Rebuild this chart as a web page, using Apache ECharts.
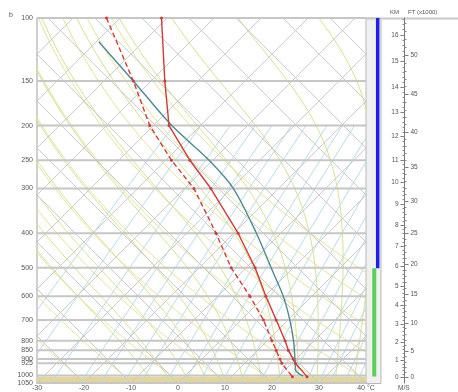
<!DOCTYPE html>
<html><head><meta charset="utf-8">
<script src="https://cdn.jsdelivr.net/npm/echarts@6/dist/echarts.min.js"></script>
<style>html,body{margin:0;padding:0;background:#fff}#c{width:458px;height:392px}</style>
</head><body><div id="c"></div>
<script>
// ---------------- data ----------------
const PRESSURE_LEVELS = [100,150,200,250,300,400,500,600,700,800,850,900,925,1000,1050];
const TEMP_TICKS = [-30,-20,-10,0,10,20,30,40];

const SOUNDING_P = [100,150,200,250,300,400,500,600,700,800,850,900,925,1008];
const TEMP_C     = [-81.2,-67.1,-56.7,-44.9,-34.4,-19.1,-8.1,0.2,7.5,13.8,16.5,19.4,20.8,26.1];
const DEWPT_C    = [-92.9,-73.8,-60.8,-48.8,-38.0,-23.8,-13.2,-3.2,4.8,11.0,13.9,16.6,17.9,23.0];
const PARCEL_P   = [116.5,150,200,250,300,400,500,600,700,800,900,925,963,1005];
const PARCEL_C   = [-89.5,-73.8,-56.1,-40.8,-29.6,-15.2,-4.7,3.9,10.4,15.6,19.8,20.8,22.1,25.2];

const SURFACE_P = 1008;
const BLUE_BAR_P = [100, 500];
const GREEN_BAR_P = [500, 1003];

const KM_LEVELS   = [0,1,2,3,4,5,6,7,8,9,10,11,12,13,14,15,16];
const KM_PRESSURE = [1012,908.6,809.1,717.3,634.7,561.6,496.0,434.1,380.9,331.2,288.8,249.5,214.8,184.0,156.2,132.5,111.6];
const FT_LABELS   = [0,5,10,15,20,25,30,35,40,45,50];

// background diagram line families
const ISOTHERMS_C   = [-110,-100,-90,-80,-70,-60,-50,-40,-30,-20,-10,0,10,20,30,40];
const CROSS_LINES_C = [-30,-20,-10,0,10,20,30,40,50,60,70,80,90,100,110,120];
const DRY_THETA_K   = [240,250,260,270,280,290,300,310,320,330,340,350];
const MOIST_THETA_W = [-8,-4,0,4,8,12,16,20,24,28,32,36];
const MIX_RATIO_GKG = [0.1,0.2,0.4,0.7,1,1.5,2,3,4,5,7,9,12,15,18,22,26,30,36,42];

// ---------------- geometry helpers ----------------
const SKEW = 33.04, P_BASE = 1050, P_TOP = 100;
const L = Math.log;
const skewX = (t, p) => t + SKEW * L(P_BASE / p);
const BRK = ['-', '-'];
function joinLines(lines) {
  const out = [];
  lines.forEach((pts, i) => { if (i) out.push(BRK); pts.forEach(q => out.push(q)); });
  return out;
}
const pSteps = [];
for (let p = 1050; p >= 100; p -= 10) pSteps.push(p);

const isothermLines = ISOTHERMS_C.map(t => [[skewX(t, P_BASE), L(P_BASE)], [skewX(t, P_TOP), L(P_TOP)]]);
const crossLines = CROSS_LINES_C.map(c => [[c, L(P_BASE)], [c - SKEW * L(P_BASE / P_TOP), L(P_TOP)]]);
const dryLines = DRY_THETA_K.map(th => pSteps.map(p => [skewX(th * Math.pow(p / 1000, 0.2857) - 273.15, p), L(p)]));

function moistAdiabat(tw) {
  const Rd = 287.04, Cp = 1005.7, Lv = 2.501e6, eps = 0.622;
  const es = T => 6.112 * Math.exp(17.67 * (T - 273.15) / (T - 29.65));
  const f = (T, p) => { const e = es(T); const rs = eps * e / Math.max(p - e, 1e-3);
    return (Rd * T + Lv * rs) / (p * (Cp + Lv * Lv * rs * eps / (Rd * T * T))); };
  const stepT = (T, p, dp) => { const k1 = f(T, p); const k2 = f(T + k1 * dp / 2, p + dp / 2); return T + k2 * dp; };
  const up = [], down = [];
  let T = tw + 273.15, p = 1000;
  up.push([skewX(T - 273.15, p), L(p)]);
  while (p > 100) { T = stepT(T, p, -5); p -= 5; up.push([skewX(T - 273.15, p), L(p)]); }
  T = tw + 273.15; p = 1000;
  while (p < 1050) { T = stepT(T, p, 5); p += 5; down.unshift([skewX(T - 273.15, p), L(p)]); }
  return down.concat(up);
}
const moistLines = MOIST_THETA_W.map(moistAdiabat);

const mixP = [1050,1000,900,800,700,600,500,400,300,200];
const mixLines = MIX_RATIO_GKG.map(w => mixP.map(p => {
  const e = w * p / (622 + w); const a = L(e / 6.112);
  return [skewX(243.5 * a / (17.67 - a), p), L(p)];
}));

const isobarLines = PRESSURE_LEVELS.map(p => [[-30, L(p)], [40, L(p)]]);

const tempData = SOUNDING_P.map((p, i) => [skewX(TEMP_C[i], p), L(p)]);
const dewData = SOUNDING_P.map((p, i) => [skewX(DEWPT_C[i], p), L(p)]);
const parcelData = PARCEL_P.map((p, i) => [skewX(PARCEL_C[i], p), L(p)]);

// height scale: km -> ln p by interpolation of the table
function kmToLnP(km) {
  let i = Math.min(Math.max(Math.floor(km), 0), KM_LEVELS.length - 2);
  const a = L(KM_PRESSURE[i]), b = L(KM_PRESSURE[i + 1]);
  return a + (b - a) * (km - KM_LEVELS[i]);
}
const KM_TICK = KM_LEVELS.map(kmToLnP);
const FT_TICK = FT_LABELS.map(f => kmToLnP(f * 0.3048));
const KM_MINOR = []; for (let k = 0; k <= 16.6; k += 0.2) KM_MINOR.push(kmToLnP(k));
const FT_MINOR = []; for (let f = 0; f <= 54; f += 1) FT_MINOR.push(kmToLnP(f * 0.3048));

const LPMIN = L(P_TOP), LPMAX = L(P_BASE);
const FONT = 'Liberation Sans';
const lab = (vals, names) => v => { const i = vals.findIndex(x => Math.abs(x - v) < 1e-6); return i < 0 ? '' : String(names[i]); };

function hAxis(opt) {
  return Object.assign({
    type: 'value', gridIndex: 0, position: 'right', offset: 38.5, inverse: true, min: LPMIN, max: LPMAX,
    splitLine: { show: false }, axisLine: { show: false, onZero: false }
  }, opt);
}

const chart = echarts.init(document.getElementById('c'));
chart.setOption({
  animation: false,
  textStyle: { fontFamily: FONT },
  grid: [
    { left: 37, right: 92, top: 18, bottom: 8.5 },
    { left: 366, right: 77, top: 18, bottom: 8.5, show: true, backgroundColor: '#f0f0f0', borderColor: '#b8b8b8', borderWidth: 1 }
  ],
  xAxis: [
    { type: 'value', gridIndex: 0, min: -30, max: 40, interval: 10,
      axisLine: { show: true, onZero: false, lineStyle: { color: '#bdbdbd' } }, axisTick: { show: false }, splitLine: { show: false },
      axisLabel: { fontSize: 7, color: '#555', margin: 2, fontFamily: FONT, formatter: v => v === 40 ? '40 °C' : String(v) } },
    { type: 'value', gridIndex: 1, min: 0, max: 1, show: false }
  ],
  yAxis: [
    { type: 'value', gridIndex: 0, inverse: true, min: LPMIN, max: LPMAX,
      axisLine: { show: true, onZero: false, lineStyle: { color: '#c0c0c0', width: 1.5 } }, axisTick: { show: false }, splitLine: { show: false },
      axisLabel: { customValues: PRESSURE_LEVELS.map(L), fontSize: 7, color: '#555', margin: 4, fontFamily: FONT,
        formatter: v => String(Math.round(Math.exp(v))) } },
    { type: 'value', gridIndex: 1, inverse: true, min: LPMIN, max: LPMAX, show: false },
    hAxis({ axisLine: { show: true, onZero: false, lineStyle: { color: '#777', width: 1 } },
      axisTick: { show: true, inside: true, length: 4, customValues: KM_TICK, lineStyle: { color: '#777' } },
      axisLabel: { show: true, inside: true, margin: 6, customValues: KM_TICK, fontSize: 6.5, color: '#555', fontFamily: FONT, formatter: lab(KM_TICK, KM_LEVELS) } }),
    hAxis({ axisTick: { show: true, inside: false, length: 4, customValues: FT_TICK, lineStyle: { color: '#777' } },
      axisLabel: { show: true, inside: false, margin: 6, customValues: FT_TICK, fontSize: 6.5, color: '#555', fontFamily: FONT, formatter: lab(FT_TICK, FT_LABELS) } }),
    hAxis({ axisTick: { show: true, inside: true, length: 2, customValues: KM_MINOR, lineStyle: { color: '#888' } }, axisLabel: { show: false } }),
    hAxis({ axisTick: { show: true, inside: false, length: 2, customValues: FT_MINOR, lineStyle: { color: '#888' } }, axisLabel: { show: false } })
  ],
  graphic: [
    { type: 'line', shape: { x1: 366, y1: 18.5, x2: 458, y2: 18.5 }, style: { stroke: '#c8c8c8', lineWidth: 2 }, silent: true },
    { type: 'text', left: 9, top: 12, style: { text: 'b', fontSize: 7, fill: '#555', fontFamily: FONT } },
    { type: 'text', left: 390, top: 9, style: { text: 'KM', fontSize: 6, fill: '#555', fontFamily: FONT } },
    { type: 'text', left: 408, top: 9, style: { text: 'FT (x1000)', fontSize: 6, fill: '#555', fontFamily: FONT } },
    { type: 'text', left: 398, top: 385, style: { text: 'M/S', fontSize: 6.5, fill: '#555', fontFamily: FONT } }
  ],
  series: [
    { name: 'mixing', type: 'line', data: joinLines(mixLines), showSymbol: false, silent: true,
      lineStyle: { color: '#b8dbec', width: 1 } },
    { name: 'dry', type: 'line', data: joinLines(dryLines), showSymbol: false, silent: true,
      lineStyle: { color: '#e6e196', width: 1 } },
    { name: 'moist', type: 'line', data: joinLines(moistLines), showSymbol: false, silent: true,
      lineStyle: { color: '#d3e18f', width: 1 } },
    { name: 'isotherms', type: 'line', data: joinLines(isothermLines.concat(crossLines)), showSymbol: false, silent: true,
      lineStyle: { color: '#c9c9c9', width: 1 } },
    { name: 'isobars', type: 'line', data: joinLines(isobarLines), showSymbol: false, silent: true,
      lineStyle: { color: '#c6c6c6', width: 2 },
      markArea: { silent: true, itemStyle: { color: '#e3d598' }, data: [[{ yAxis: L(SURFACE_P) }, { yAxis: L(P_BASE) }]] } },
    { name: 'parcel', type: 'line', data: parcelData, showSymbol: false, smooth: 0.3,
      lineStyle: { color: '#4f8a92', width: 1.4 } },
    { name: 'dewpoint', type: 'line', data: dewData, symbol: 'circle', symbolSize: 3,
      itemStyle: { color: '#d23a36' }, lineStyle: { color: '#d23a36', width: 1.4, type: [5, 3] } },
    { name: 'temperature', type: 'line', data: tempData, symbol: 'circle', symbolSize: 3,
      itemStyle: { color: '#d23a36' }, lineStyle: { color: '#d23a36', width: 1.4 } },
    { name: 'blue', type: 'line', xAxisIndex: 1, yAxisIndex: 1, showSymbol: false, silent: true,
      data: BLUE_BAR_P.map(p => [0.78, L(p)]), lineStyle: { color: '#1f1fe6', width: 3.5 } },
    { name: 'green', type: 'line', xAxisIndex: 1, yAxisIndex: 1, showSymbol: false, silent: true,
      data: GREEN_BAR_P.map(p => [0.55, L(p)]), lineStyle: { color: '#5ccf5c', width: 4 } }
  ]
});
</script></body></html>
